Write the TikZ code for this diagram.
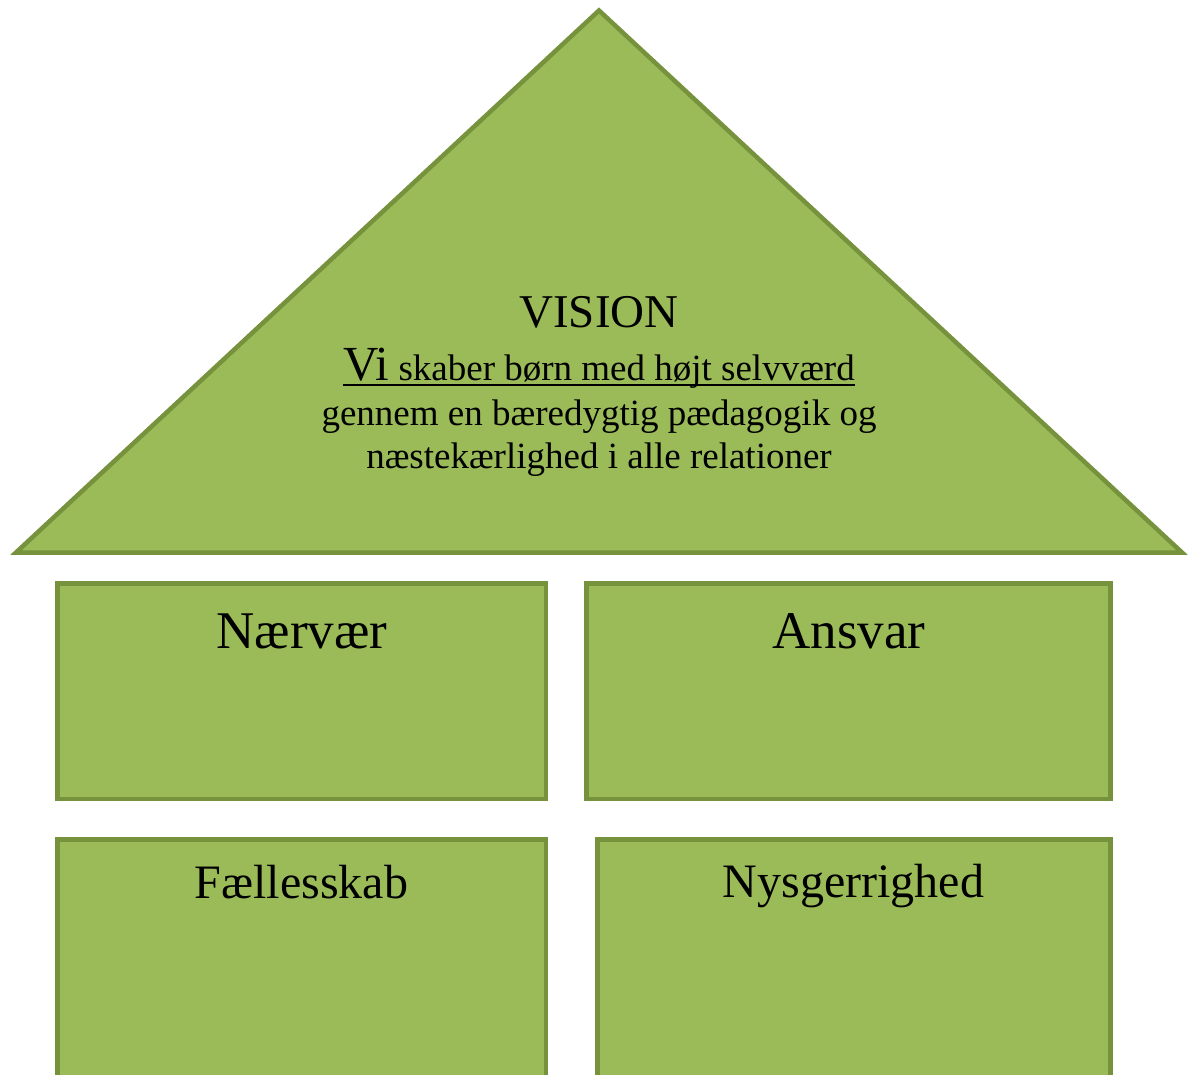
\documentclass[tikz,border=0pt]{standalone}
\usepackage{fontspec}
\setmainfont{Liberation Serif}
\definecolor{fillg}{HTML}{9BBB59}
\definecolor{lineg}{HTML}{76923C}
\begin{document}
\begin{tikzpicture}[x=1pt,y=-1pt,
  shapebox/.style={draw=lineg, fill=fillg, line width=4.5pt, line join=miter},
  pillar/.style={shapebox, rectangle, inner sep=0pt, outer sep=0pt, anchor=north west},
  txt/.style={inner sep=0pt, anchor=base, text=black},
  uline/.style={draw=black, line width=1.8pt}]
\useasboundingbox (0,0) rectangle (1189,1075);
\clip (0,0) rectangle (1189,1075);
\path[shapebox] (599,10.5) coordinate (apex) -- (1182,552.5) coordinate (rc) -- (16,552.5) coordinate (lc) -- cycle;
\node[pillar, minimum width=488.5pt, minimum height=215.5pt] (b1) at (57.5,583.5) {};
\node[pillar, minimum width=524pt, minimum height=215.5pt] (b2) at (586.5,583.5) {};
\node[pillar, minimum width=488.5pt, minimum height=270pt] (b3) at (57.5,839.5) {};
\node[pillar, minimum width=513pt, minimum height=270pt] (b4) at (597.5,839.5) {};
\node[txt, font=\fontsize{47}{50}\selectfont] (vision) at (599,327) {VISION};
\node[txt, font=\fontsize{37}{40}\selectfont] (l1) at (599,381) {{\fontsize{49}{50}\selectfont Vi} skaber børn med højt selvværd};
\draw[uline] ([yshift=-4pt]l1.base west) -- ([yshift=-4pt]l1.base east);
\node[txt, font=\fontsize{37}{40}\selectfont] (l2) at (599,425) {gennem en bæredygtig pædagogik og};
\node[txt, font=\fontsize{37}{40}\selectfont] (l3) at (599,468) {næstekærlighed i alle relationer};
\node[txt, font=\fontsize{53}{56}\selectfont] (t1) at (302,648) {Nærvær};
\node[txt, font=\fontsize{53}{56}\selectfont] (t2) at (849,648) {Ansvar};
\node[txt, font=\fontsize{48}{50}\selectfont] (t3) at (301.5,898) {Fællesskab};
\node[txt, font=\fontsize{48}{50}\selectfont] (t4) at (853.5,897) {Nysgerrighed};
\end{tikzpicture}
\end{document}
